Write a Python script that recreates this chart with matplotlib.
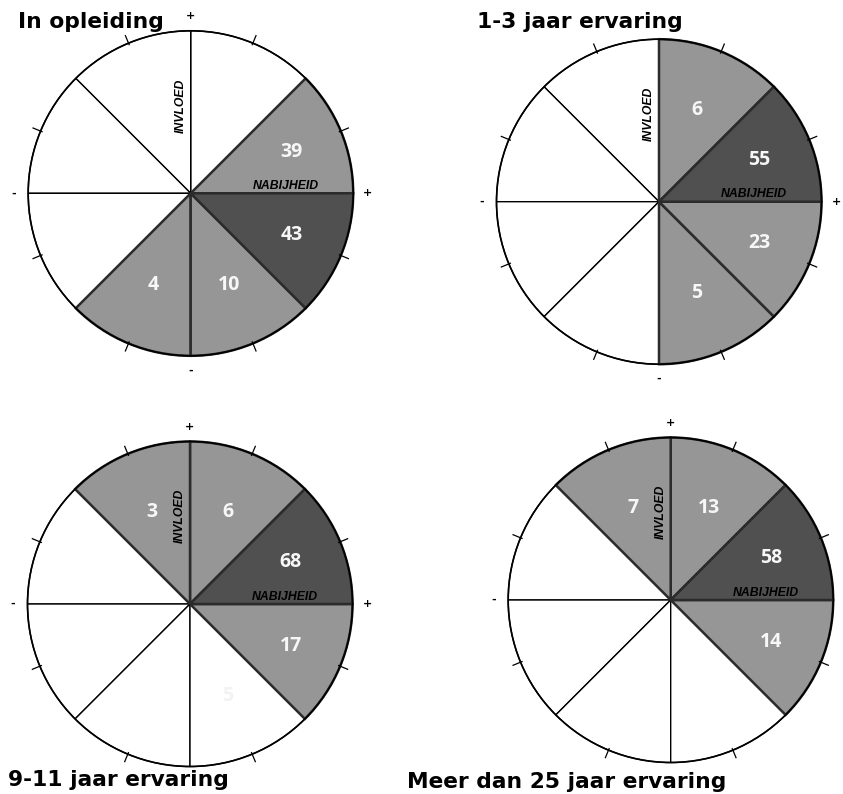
import numpy as np
import matplotlib
matplotlib.use('Agg')
import matplotlib.pyplot as plt

# octants counted counterclockwise from the positive NABIJHEID axis:
# 0 = 0-45 deg, 1 = 45-90, 2 = 90-135, ..., 7 = 315-360
titles = ['In opleiding', '1-3 jaar ervaring', '9-11 jaar ervaring', 'Meer dan 25 jaar ervaring']
values = [
    [39, None, None, None, None, 4, 10, 43],
    [55, 6, None, None, None, None, 5, 23],
    [68, 6, 3, None, None, None, 5, 17],
    [58, 13, 7, None, None, None, None, 14],
]
# shading level per octant: 0 white, 1 grey, 2 dark
levels = [
    [1, 0, 0, 0, 0, 1, 1, 2],
    [2, 1, 0, 0, 0, 0, 1, 1],
    [2, 1, 1, 0, 0, 0, 0, 1],
    [2, 1, 1, 0, 0, 0, 0, 1],
]

W, H = 843, 794
fills = {0: 'white', 1: '#969696', 2: '#505050'}
centers = [(190.7, 193.3), (659, 201.7), (190, 604), (670.7, 600)]
radius = 162.5
title_pos = [(18, 27.5), (477, 28.5), (8, 786.5), (407, 787.5)]

fig = plt.figure(figsize=(W / 100, H / 100), dpi=100)
lim = 1.18

for k in range(4):
    cx, cy = centers[k]
    half = lim * radius
    ax = fig.add_axes([(cx - half) / W, (H - cy - half) / H, 2 * half / W, 2 * half / H])
    ax.set_xlim(-lim, lim)
    ax.set_ylim(-lim, lim)
    ax.set_aspect('equal')
    ax.axis('off')

    lev = levels[k]
    # white sectors first, shaded ones on top so their borders stay visible
    order = sorted(range(8), key=lambda i: lev[i])
    for i in order:
        shaded = lev[i] > 0
        w = plt.matplotlib.patches.Wedge(
            (0, 0), 1.0, 45 * i, 45 * (i + 1),
            facecolor=fills[lev[i]],
            edgecolor='#2b2b2b' if shaded else 'black',
            linewidth=1.8 if shaded else 1.0,
            zorder=2 + lev[i])
        ax.add_patch(w)
    circ = plt.Circle((0, 0), 1.0, fill=False, edgecolor='black', linewidth=1.2, zorder=6)
    ax.add_patch(circ)

    # ticks at the middle of each octant
    for i in range(8):
        a = np.deg2rad(45 * i + 22.5)
        ax.plot([0.99 * np.cos(a), 1.05 * np.cos(a)], [0.99 * np.sin(a), 1.05 * np.sin(a)],
                color='black', linewidth=0.9, zorder=6)

    # axis end signs (skip those hidden under a title or outside the figure)
    for ang, s in [(0, '+'), (90, '+'), (180, '-'), (270, '-')]:
        a = np.deg2rad(ang)
        px = cx + 1.09 * radius * np.cos(a)
        py = cy - 1.09 * radius * np.sin(a)
        if px > W - 4 or (k == 1 and ang == 90) or (k >= 2 and ang == 270):
            continue
        ax.text(1.09 * np.cos(a), 1.09 * np.sin(a), s, ha='center', va='center',
                fontsize=8, fontweight='bold', color='black', zorder=7)

    # axis names
    ax.text(-0.06, 0.54, 'INVLOED', rotation=90, ha='center', va='center',
            fontsize=8.8, fontweight='bold', fontstyle='italic',
            family='Liberation Sans', zorder=8)
    ax.text(0.585, 0.045, 'NABIJHEID', ha='center', va='center',
            fontsize=8.8, fontweight='bold', fontstyle='italic',
            family='Liberation Sans', zorder=8)

    # values
    for i in range(8):
        v = values[k][i]
        if v is None:
            continue
        a = np.deg2rad(45 * i + 22.5)
        rr = 0.67 if i in (0, 7) else 0.61
        col = '#f7f7f7' if lev[i] > 0 else '#f2f2f2'
        ax.text(rr * np.cos(a), rr * np.sin(a), str(v), ha='center', va='center',
                fontsize=14, fontweight='bold', color=col, family='Open Sans', zorder=9)

for k in range(4):
    x, y = title_pos[k]
    fig.text(x / W, 1 - y / H, titles[k], ha='left', va='baseline',
             fontsize=15.7, fontweight='bold', color='black')

fig.savefig('out.png', dpi=100, facecolor='white')
